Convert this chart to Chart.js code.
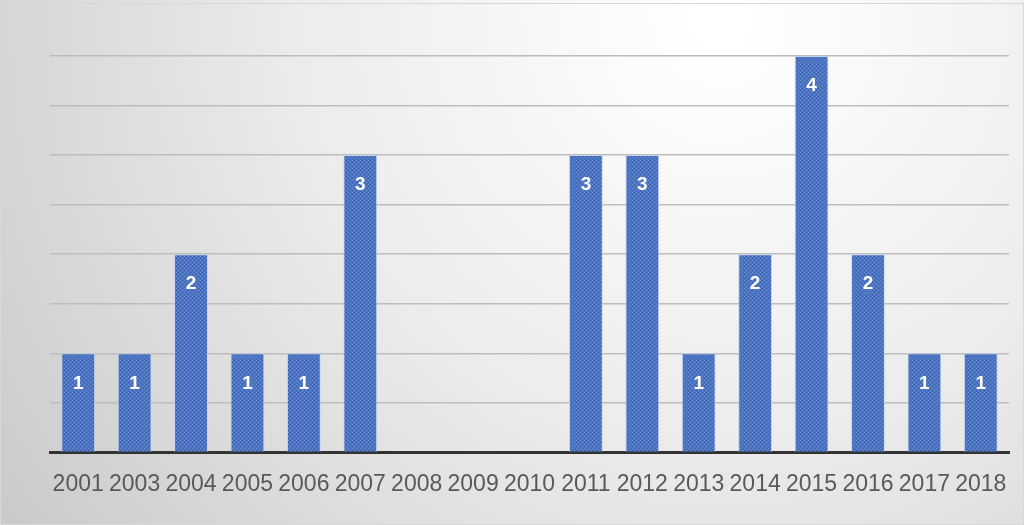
<!DOCTYPE html>
<html>
<head>
<meta charset="utf-8">
<script src="https://cdn.jsdelivr.net/npm/chart.js@4.4.1/dist/chart.umd.min.js"></script>
<style>
html,body{margin:0;padding:0;background:#fff;}
#wrap{width:1024px;height:525px;position:relative;}
</style>
</head>
<body>
<div id="wrap"><canvas id="c" width="1024" height="525"></canvas></div>
<script>
const categories = ["2001","2003","2004","2005","2006","2007","2008","2009","2010","2011","2012","2013","2014","2015","2016","2017","2018"];
const values = [1,1,2,1,1,3,0,0,0,3,3,1,2,4,2,1,1];
const yTicks = [0,0.5,1,1.5,2,2.5,3,3.5,4];

function makePattern(){
  const p = document.createElement('canvas');
  p.width = 4; p.height = 4;
  const g = p.getContext('2d');
  g.fillStyle = '#4a73c2';
  g.fillRect(0,0,4,4);
  g.fillStyle = '#6d92d8';
  g.fillRect(0,0,1,1); g.fillRect(2,2,1,1);
  g.fillStyle = '#3c62ad';
  g.fillRect(2,0,1,1); g.fillRect(0,2,1,1);
  return document.getElementById('c').getContext('2d').createPattern(p,'repeat');
}

const bgPlugin = {
  id:'bg',
  beforeDraw(chart){
    const ctx = chart.ctx, w = chart.width, h = chart.height;
    ctx.save();
    const g = ctx.createRadialGradient(720, 20, 20, 720, 20, 900);
    g.addColorStop(0, '#ffffff');
    g.addColorStop(0.45, '#ececec');
    g.addColorStop(1, '#c8c8c8');
    ctx.fillStyle = g;
    ctx.fillRect(0,0,w,h);
    ctx.strokeStyle = '#d8d8d8';
    ctx.lineWidth = 1;
    ctx.strokeRect(0.5,3.5,w-1,h-4);
    ctx.restore();
  }
};

const labelPlugin = {
  id:'lbl',
  afterDatasetsDraw(chart){
    const ctx = chart.ctx;
    const meta = chart.getDatasetMeta(0);
    ctx.save();
    ctx.fillStyle = '#ffffff';
    ctx.font = 'bold 19px "Liberation Sans", Arial, sans-serif';
    ctx.textAlign = 'center';
    ctx.textBaseline = 'middle';
    meta.data.forEach((bar,i)=>{
      const v = values[i];
      if(!v) return;
      ctx.fillText(String(v), bar.x, bar.y + 30);
    });
    ctx.restore();
  }
};

new Chart(document.getElementById('c'), {
  type:'bar',
  data:{
    labels: categories,
    datasets:[{
      data: values,
      backgroundColor: makePattern(),
      borderColor: 'rgba(190,210,240,0.8)',
      borderWidth: 1,
      borderSkipped: 'bottom',
      barPercentage: 0.6,
      categoryPercentage: 1.0
    }]
  },
  options:{
    responsive:false,
    animation:false,
    devicePixelRatio:1,
    layout:{padding:{left:50, right:15, top:56, bottom:17}},
    plugins:{legend:{display:false}, tooltip:{enabled:false}},
    scales:{
      x:{
        grid:{display:false},
        border:{display:true, color:'#333333', width:3},
        ticks:{color:'#595959', font:{family:'"Liberation Sans", Arial, sans-serif', size:23}, padding:10, maxRotation:0, autoSkip:false}
      },
      y:{
        min:0, max:4,
        afterBuildTicks(axis){ axis.ticks = yTicks.map(v=>({value:v})); },
        ticks:{display:false},
        grid:{color:'#bdbdbd', lineWidth:1.5, drawTicks:false},
        border:{display:false}
      }
    }
  },
  plugins:[bgPlugin, labelPlugin]
});
</script>
</body>
</html>
